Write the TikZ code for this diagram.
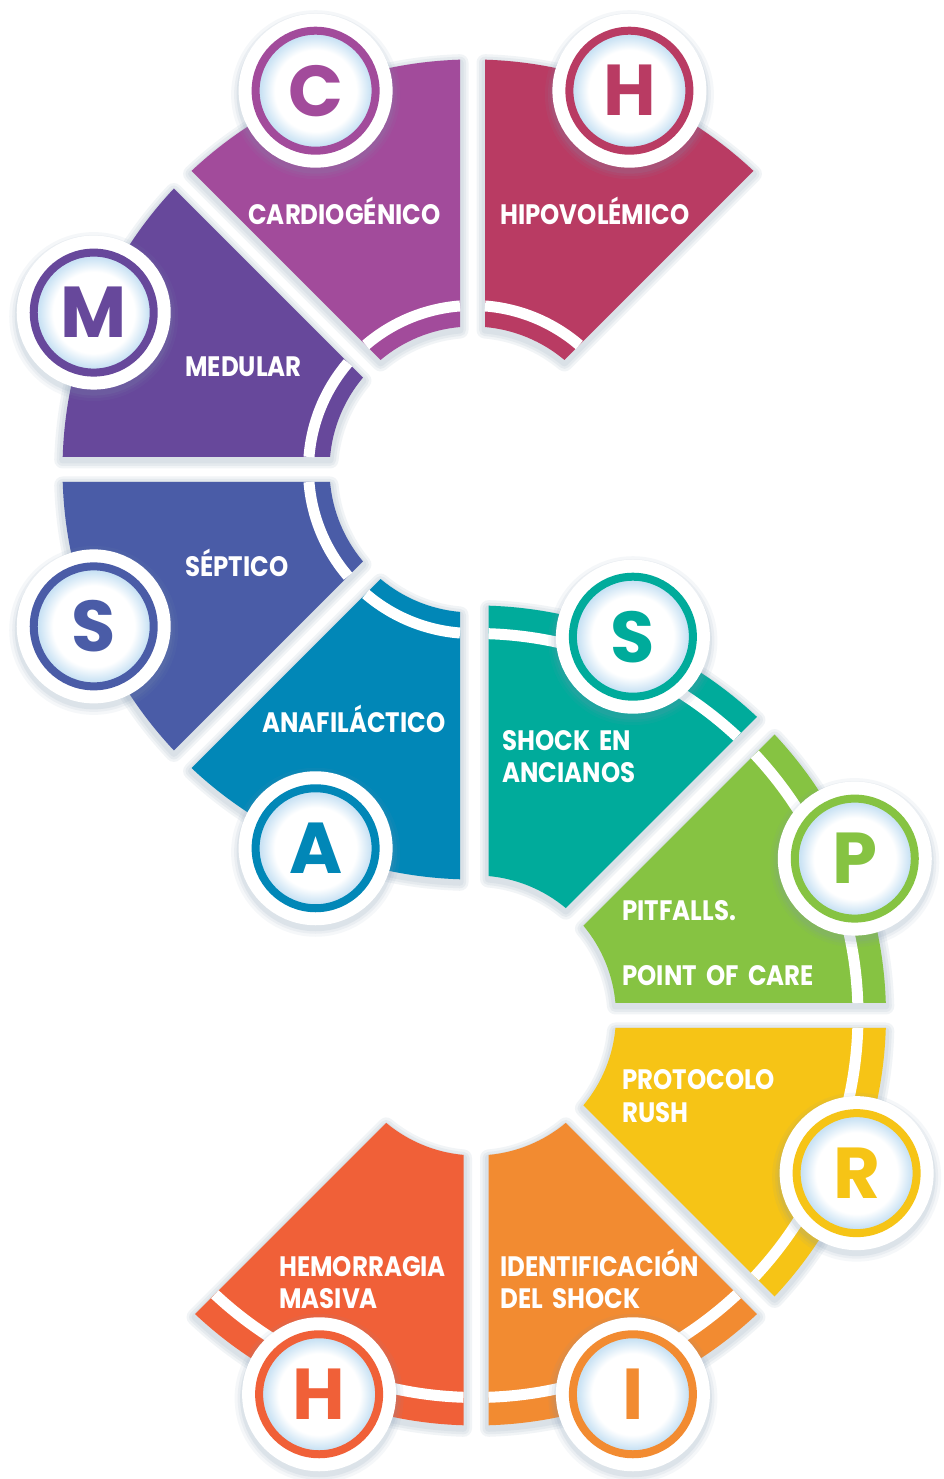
\documentclass[tikz,border=0pt]{standalone}
\usepackage{fontspec}
\setmainfont{Poppins}
\newfontfamily\lblfont{Poppins}[FakeStretch=0.87, WordSpace=1.8]
\usepackage{xcolor}
\usepackage{tikz}

% sector colours
\definecolor{cardio}{HTML}{A24B9B}
\definecolor{hipo}{HTML}{B93B63}
\definecolor{medular}{HTML}{67489B}
\definecolor{septico}{HTML}{4A5CA7}
\definecolor{anafil}{HTML}{0187B7}
\definecolor{ancianos}{HTML}{00AB9B}
\definecolor{pitfall}{HTML}{86C342}
\definecolor{rush}{HTML}{F6C416}
\definecolor{ident}{HTML}{F28B31}
\definecolor{hemo}{HTML}{F06038}
\definecolor{shadowc}{HTML}{7F95B0}
\definecolor{glowblue}{HTML}{C9E2F4}

\pgfdeclareradialshading{badgeglow}{\pgfpoint{0bp}{0bp}}{color(0bp)=(white); color(17bp)=(white); color(23bp)=(glowblue); color(25bp)=(glowblue); color(50bp)=(glowblue)}

\def\halfgap{12.5}

\tikzset{
    sectorshadow/.style={draw=shadowc, opacity=0.1, line join=round, transform canvas={yshift=-0.06cm}},
    stripe/.style={draw=white, line width=0.22cm},
    lbl/.style={text=white, anchor=base west, inner sep=0pt, font=\lblfont\bfseries\fontsize{16}{16}\selectfont},
    badge/.style={circle, inner sep=0pt, minimum size=2.4cm, line width=0.16cm, draw=#1, text=#1,
        shade, shading=badgeglow, font=\bfseries\fontsize{41}{41}\selectfont,
        preaction={draw=shadowc, line width=0.98cm, opacity=0.07, transform canvas={yshift=-0.08cm}},
        preaction={draw=shadowc, line width=0.86cm, opacity=0.09, transform canvas={yshift=-0.08cm}},
        preaction={draw=shadowc, line width=0.76cm, opacity=0.12, transform canvas={yshift=-0.08cm}},
        preaction={draw=white, line width=0.68cm}}
}

% #1 from angle, #2 to angle, #3 inner radius, #4 outer radius, #5 colour
\newcommand{\ringsector}[5]{%
    \pgfmathsetmacro\ao{#1+asin(\halfgap/#4)}
    \pgfmathsetmacro\bo{#2-asin(\halfgap/#4)}
    \pgfmathsetmacro\ai{#1+asin(\halfgap/#3)}
    \pgfmathsetmacro\bi{#2-asin(\halfgap/#3)}
    \def\secpath{(\ao:#4) arc[start angle=\ao, end angle=\bo, radius=#4]
        -- (\bi:#3) arc[start angle=\bi, end angle=\ai, radius=#3] -- cycle}
    \foreach \w in {0.34cm,0.24cm,0.14cm} {\draw[sectorshadow, line width=\w] \secpath;}
    \fill[#5] \secpath;
}

% #1 from angle, #2 to angle, #3 radius
\newcommand{\ringstripe}[3]{%
    \pgfmathsetmacro\as{#1+asin(\halfgap/#3)}
    \pgfmathsetmacro\bs{#2-asin(\halfgap/#3)}
    \draw[stripe] (\as:#3) arc[start angle=\as, end angle=\bs, radius=#3];
}

\begin{document}
\begin{tikzpicture}[x=0.02cm, y=0.02cm]
    % page
    \fill[white] (0,0) rectangle (943,1479);
    \useasboundingbox (0,0) rectangle (943,1479);

    % centres of the two rings
    \coordinate (upc) at (472.5,1009.5);
    \coordinate (loc) at (476,463.5);

    % upper half of the S
    \begin{scope}[shift={(upc)}]
        \ringsector{45}{90}{143}{410}{hipo}
        \ringsector{90}{135}{143}{410}{cardio}
        \ringsector{135}{180}{143}{410}{medular}
        \ringsector{180}{225}{143}{410}{septico}
        \ringsector{225}{270}{143}{410}{anafil}
        \foreach \a in {45,90,135,180,225} {\ringstripe{\a}{\a+45}{164}}
    \end{scope}

    % lower half of the S
    \begin{scope}[shift={(loc)}]
        \ringsector{45}{90}{140}{410}{ancianos}
        \ringsector{0}{45}{140}{410}{pitfall}
        \ringsector{-45}{0}{140}{410}{rush}
        \ringsector{-90}{-45}{140}{410}{ident}
        \ringsector{-135}{-90}{140}{410}{hemo}
        \foreach \a in {-135,-90,-45,0,45} {\ringstripe{\a}{\a+45}{382}}
    \end{scope}

    % labels
    \node[lbl] (tcardio) at (248,1254) {CARDIOGÉNICO};
    \node[lbl] (thipo) at (500,1254) {HIPOVOLÉMICO};
    \node[lbl] (tmedular) at (185,1102) {MEDULAR};
    \node[lbl] (tseptico) at (185,902) {SÉPTICO};
    \node[lbl] (tanafil) at (262,746) {ANAFILÁCTICO};
    \node[lbl] (tancianosa) at (502,728) {SHOCK EN};
    \node[lbl] (tancianosb) at (502,696) {ANCIANOS};
    \node[lbl] (tpitfalla) at (622,558) {PITFALLS.};
    \node[lbl] (tpitfallb) at (622,493) {POINT OF CARE};
    \node[lbl] (trusha) at (622,389) {PROTOCOLO};
    \node[lbl] (trushb) at (622,356) {RUSH};
    \node[lbl] (themoa) at (279,202) {HEMORRAGIA};
    \node[lbl] (themob) at (279,170) {MASIVA};
    \node[lbl] (tidenta) at (500,202) {IDENTIFICACIÓN};
    \node[lbl] (tidentb) at (500,170) {DEL SHOCK};

    % letter badges
    \begin{scope}[shift={(upc)}]
        \node[badge=hipo] (bhipo) at (67.5:410) {H};
        \node[badge=cardio] (bcardio) at (112.5:410) {C};
        \node[badge=medular] (bmedular) at (157.5:410) {M};
        \node[badge=septico] (bseptico) at (202.5:410) {S};
        \node[badge=anafil] (banafil) at (247.5:410) {A};
    \end{scope}
    \begin{scope}[shift={(loc)}]
        \node[badge=ancianos] (bancianos) at (67.5:410) {S};
        \node[badge=pitfall] (bpitfall) at (22.5:410) {P};
        \node[badge=rush] (brush) at (-22.5:412) {R};
        \node[badge=ident] (bident) at (-67.5:410) {I};
        \node[badge=hemo] (bhemo) at (-112.5:410) {H};
    \end{scope}
\end{tikzpicture}
\end{document}
